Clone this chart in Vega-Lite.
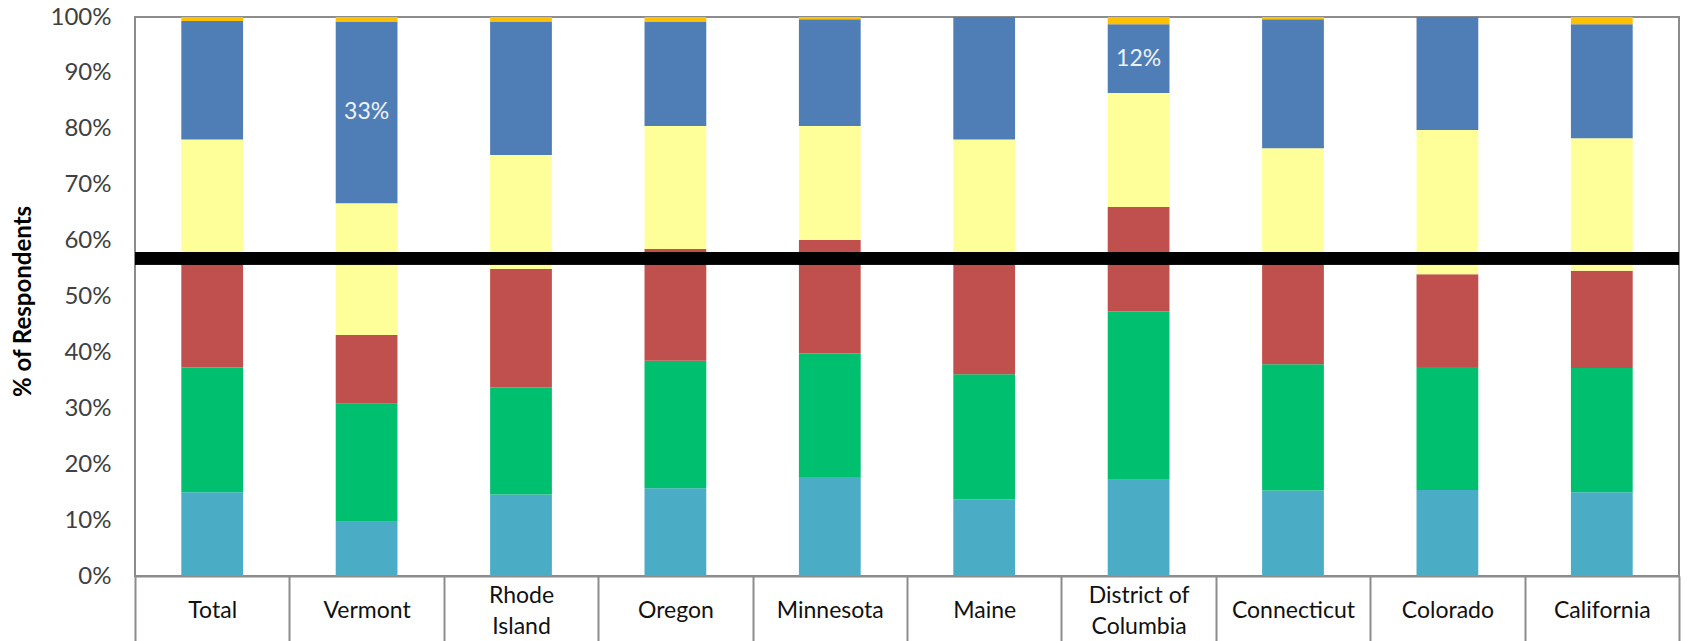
{
 "$schema": "https://vega.github.io/schema/vega-lite/v6.json",
 "width": 1544, "height": 559,
 "autosize": {"type": "none"},
 "padding": {"left": 135, "top": 17, "right": 8, "bottom": 65},
 "background": "white",
 "config": {"view": {"stroke": "#8c8c8c", "strokeWidth": 2}, "font": "Lato"},
 "data": {"values": [
  {"state": "Total", "segment": "s1", "rank": 1, "value": 15.0},
  {"state": "Total", "segment": "s2", "rank": 2, "value": 22.3},
  {"state": "Total", "segment": "s3", "rank": 3, "value": 18.6},
  {"state": "Total", "segment": "s4", "rank": 4, "value": 22.2},
  {"state": "Total", "segment": "s5", "rank": 5, "value": 21.2},
  {"state": "Total", "segment": "s6", "rank": 6, "value": 0.7},
  {"state": "Vermont", "segment": "s1", "rank": 1, "value": 9.7},
  {"state": "Vermont", "segment": "s2", "rank": 2, "value": 21.1},
  {"state": "Vermont", "segment": "s3", "rank": 3, "value": 12.3},
  {"state": "Vermont", "segment": "s4", "rank": 4, "value": 23.6},
  {"state": "Vermont", "segment": "s5", "rank": 5, "value": 32.5, "label": "33%"},
  {"state": "Vermont", "segment": "s6", "rank": 6, "value": 0.8},
  {"state": "Rhode Island", "segment": "s1", "rank": 1, "value": 14.6},
  {"state": "Rhode Island", "segment": "s2", "rank": 2, "value": 19.1},
  {"state": "Rhode Island", "segment": "s3", "rank": 3, "value": 21.2},
  {"state": "Rhode Island", "segment": "s4", "rank": 4, "value": 20.4},
  {"state": "Rhode Island", "segment": "s5", "rank": 5, "value": 23.9},
  {"state": "Rhode Island", "segment": "s6", "rank": 6, "value": 0.8},
  {"state": "Oregon", "segment": "s1", "rank": 1, "value": 15.7},
  {"state": "Oregon", "segment": "s2", "rank": 2, "value": 22.8},
  {"state": "Oregon", "segment": "s3", "rank": 3, "value": 20.0},
  {"state": "Oregon", "segment": "s4", "rank": 4, "value": 22.0},
  {"state": "Oregon", "segment": "s5", "rank": 5, "value": 18.7},
  {"state": "Oregon", "segment": "s6", "rank": 6, "value": 0.8},
  {"state": "Minnesota", "segment": "s1", "rank": 1, "value": 17.7},
  {"state": "Minnesota", "segment": "s2", "rank": 2, "value": 22.1},
  {"state": "Minnesota", "segment": "s3", "rank": 3, "value": 20.3},
  {"state": "Minnesota", "segment": "s4", "rank": 4, "value": 20.4},
  {"state": "Minnesota", "segment": "s5", "rank": 5, "value": 19.1},
  {"state": "Minnesota", "segment": "s6", "rank": 6, "value": 0.4},
  {"state": "Maine", "segment": "s1", "rank": 1, "value": 13.7},
  {"state": "Maine", "segment": "s2", "rank": 2, "value": 22.4},
  {"state": "Maine", "segment": "s3", "rank": 3, "value": 20.4},
  {"state": "Maine", "segment": "s4", "rank": 4, "value": 21.6},
  {"state": "Maine", "segment": "s5", "rank": 5, "value": 21.9},
  {"state": "Maine", "segment": "s6", "rank": 6, "value": 0},
  {"state": "District of Columbia", "segment": "s1", "rank": 1, "value": 17.2},
  {"state": "District of Columbia", "segment": "s2", "rank": 2, "value": 30.1},
  {"state": "District of Columbia", "segment": "s3", "rank": 3, "value": 18.7},
  {"state": "District of Columbia", "segment": "s4", "rank": 4, "value": 20.4},
  {"state": "District of Columbia", "segment": "s5", "rank": 5, "value": 12.3, "label": "12%"},
  {"state": "District of Columbia", "segment": "s6", "rank": 6, "value": 1.3},
  {"state": "Connecticut", "segment": "s1", "rank": 1, "value": 15.3},
  {"state": "Connecticut", "segment": "s2", "rank": 2, "value": 22.6},
  {"state": "Connecticut", "segment": "s3", "rank": 3, "value": 18.4},
  {"state": "Connecticut", "segment": "s4", "rank": 4, "value": 20.2},
  {"state": "Connecticut", "segment": "s5", "rank": 5, "value": 23.1},
  {"state": "Connecticut", "segment": "s6", "rank": 6, "value": 0.4},
  {"state": "Colorado", "segment": "s1", "rank": 1, "value": 15.4},
  {"state": "Colorado", "segment": "s2", "rank": 2, "value": 22.0},
  {"state": "Colorado", "segment": "s3", "rank": 3, "value": 16.6},
  {"state": "Colorado", "segment": "s4", "rank": 4, "value": 25.8},
  {"state": "Colorado", "segment": "s5", "rank": 5, "value": 20.2},
  {"state": "Colorado", "segment": "s6", "rank": 6, "value": 0},
  {"state": "California", "segment": "s1", "rank": 1, "value": 15.0},
  {"state": "California", "segment": "s2", "rank": 2, "value": 22.2},
  {"state": "California", "segment": "s3", "rank": 3, "value": 17.4},
  {"state": "California", "segment": "s4", "rank": 4, "value": 23.7},
  {"state": "California", "segment": "s5", "rank": 5, "value": 20.4},
  {"state": "California", "segment": "s6", "rank": 6, "value": 1.3}
 ]},
 "transform": [
  {"stack": "value", "groupby": ["state"], "sort": [{"field": "rank", "order": "ascending"}], "as": ["y0", "y1"]},
  {"calculate": "(datum.y0 + datum.y1) / 2", "as": "ymid"}
 ],
 "layer": [
  {"mark": {"type": "bar", "width": {"band": 0.4}},
   "encoding": {
    "x": {"field": "state", "type": "nominal", "sort": null,
     "scale": {"paddingInner": 0, "paddingOuter": 0},
     "axis": {"title": null, "labelAngle": 0, "domain": true, "domainColor": "#8c8c8c", "domainWidth": 2,
      "ticks": true, "tickBand": "extent", "tickSize": 65, "tickColor": "#8c8c8c", "tickWidth": 2,
      "labelFont": "Lato", "labelFontSize": 23, "labelColor": "#111111", "labelBaseline": "middle",
      "labelPadding": {"condition": {"test": "datum.value == 'Rhode Island' || datum.value == 'District of Columbia'", "value": -46}, "value": -31},
      "labelLineHeight": 31,
      "labelExpr": "datum.value == 'Rhode Island' ? ['Rhode', 'Island'] : datum.value == 'District of Columbia' ? ['District of', 'Columbia'] : datum.value"}},
    "y": {"field": "y0", "type": "quantitative", "scale": {"domain": [0, 100], "nice": false},
     "axis": {"values": [0, 10, 20, 30, 40, 50, 60, 70, 80, 90, 100], "labelExpr": "datum.value + '%'",
      "ticks": false, "domain": false, "grid": false, "labelFont": "Lato", "labelFontSize": 24, "labelColor": "#404040",
      "labelPadding": 24, "title": "% of Respondents", "titleFont": "Lato", "titleFontSize": 24, "titleFontWeight": "bold",
      "titleColor": "#000000", "titleX": -112, "titleY": 284, "titleAngle": -90, "titleBaseline": "middle", "titleAlign": "center"}},
    "y2": {"field": "y1"},
    "color": {"field": "segment", "type": "nominal",
     "scale": {"domain": ["s1", "s2", "s3", "s4", "s5", "s6"], "range": ["#4BACC6", "#00BF6F", "#C0504D", "#FFFF99", "#4F7DB5", "#FFC000"]},
     "legend": null}
   }},
  {"mark": {"type": "text", "fontSize": 23, "font": "Lato", "color": "#EEF2F8"},
   "transform": [{"filter": "datum.label"}],
   "encoding": {"x": {"field": "state", "type": "nominal", "sort": null}, "y": {"field": "ymid", "type": "quantitative"}, "text": {"field": "label"}}},
  {"mark": {"type": "rule", "color": "#000000", "strokeWidth": 6, "opacity": 0.15}, "encoding": {"y": {"datum": 56.3}}},
  {"mark": {"type": "rule", "color": "#000000", "strokeWidth": 8}, "encoding": {"y": {"datum": 57.1}}}
 ]
}
